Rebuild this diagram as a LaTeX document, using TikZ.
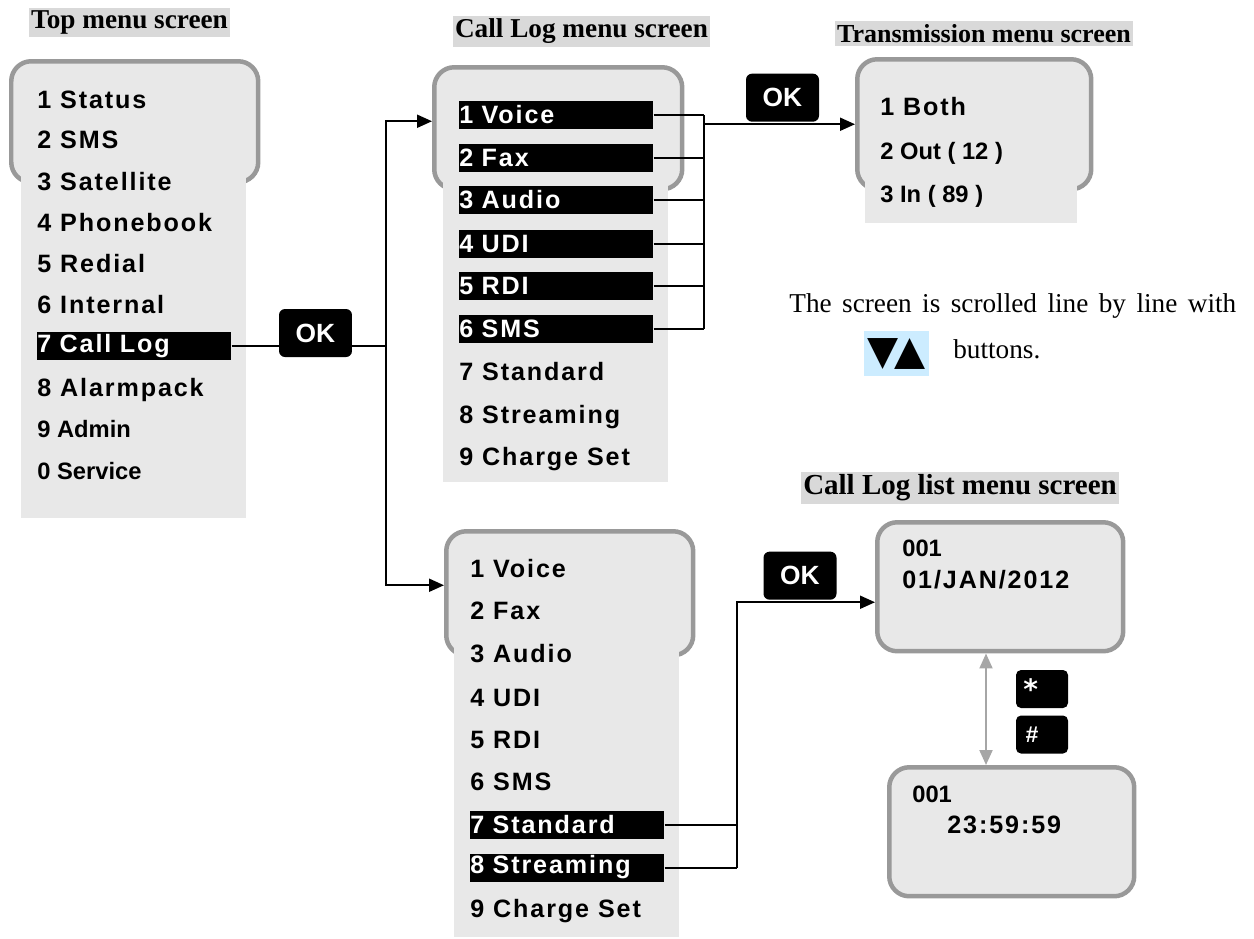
\documentclass[tikz,border=0pt]{standalone}
\usepackage{fontspec}
\setmainfont{Liberation Serif}
\newfontfamily\menufont[LetterSpace=7.5]{Liberation Sans}
\newfontfamily\plainfont{Liberation Sans}
\newfontfamily\symfont{DejaVu Sans}
\usepackage{tikz}
\usetikzlibrary{arrows.meta}
\definecolor{scr}{RGB}{232,232,232}
\definecolor{framegray}{RGB}{153,153,153}
\definecolor{titlebg}{RGB}{217,217,217}
\definecolor{keyblue}{RGB}{204,236,255}
\definecolor{linkgray}{RGB}{166,166,166}

\begin{document}
\begin{tikzpicture}[x=0.02cm,y=-0.02cm,>={Triangle[length=0.3cm,width=0.26cm]},
  title/.style={fill=titlebg,inner xsep=0.04cm,inner ysep=0.06cm,font=\bfseries\fontsize{15.5}{18}\selectfont},
  screen/.style={draw=framegray,line width=0.09cm,fill=scr,rounded corners=0.4cm,anchor=north west,inner sep=0},
  item/.style={anchor=base west,inner sep=0,font=\menufont\bfseries\fontsize{14.3}{17}\selectfont},
  pitem/.style={item,font=\plainfont\bfseries\fontsize{13.5}{16}\selectfont},
  sel/.style={item,anchor=west,fill=black,text=white,text width=3.88cm,minimum height=0.56cm},
  okkey/.style={fill=black,text=white,rounded corners=0.12cm,minimum width=1.46cm,minimum height=0.96cm,font=\plainfont\bfseries\fontsize{15}{18}\selectfont},
  smallkey/.style={fill=black,text=white,rounded corners=0.1cm,minimum width=1.04cm,minimum height=0.76cm,inner sep=0},
  link/.style={line width=0.04cm}]
\useasboundingbox (0,0) rectangle (1254,938);

% titles
\node[title] (ttop) at (129.5,22.5) {Top menu screen};
\node[title] (tclm) at (581.5,31.5) {Call Log menu screen};
\node[title,font=\bfseries\fontsize{14.8}{18}\selectfont] (ttm) at (984,33.5) {Transmission menu screen};
\node[title,font=\bfseries\fontsize{16.5}{18}\selectfont] (tcll) at (960,488) {Call Log list menu screen};

% top menu
\node[screen,minimum width=4.94cm,minimum height=2.42cm] (top) at (9,59) {};
\fill[scr] (21,150) rectangle (246,518);
\node[item] (t1) at (37,108) {1 Status};
\node[item] (t2) at (37,148) {2 SMS};
\node[item] (t3) at (37,190) {3 Satellite};
\node[item] (t4) at (37,231) {4 Phonebook};
\node[item] (t5) at (37,272) {5 Redial};
\node[item] (t6) at (37,313) {6 Internal};
\node[sel] (t7) at (37,346) {7 Call Log};
\node[item] (t8) at (37,396) {8 Alarmpack};
\node[pitem] (t9) at (37,437) {9 Admin};
\node[pitem] (t0) at (37,479) {0 Service};

% call log menu
\node[screen,minimum width=4.96cm,minimum height=2.44cm] (clm) at (432,65) {};
\fill[scr] (443,150) rectangle (668,482);
\node[sel] (c1) at (459,115) {1 Voice};
\node[sel] (c2) at (459,157.5) {2 Fax};
\node[sel] (c3) at (459,200) {3 Audio};
\node[sel] (c4) at (459,243.5) {4 UDI};
\node[sel] (c5) at (459,285.5) {5 RDI};
\node[sel] (c6) at (459,328.5) {6 SMS};
\node[item] (c7) at (459,380) {7 Standard};
\node[item] (c8) at (459,423) {8 Streaming};
\node[item] (c9) at (459,465) {9 Charge Set};

% second call log menu
\node[screen,minimum width=4.94cm,minimum height=2.48cm] (clm2) at (444,529) {};
\fill[scr] (454,620) rectangle (679,937);
\node[item] (d1) at (470,577) {1 Voice};
\node[item] (d2) at (470,619) {2 Fax};
\node[item] (d3) at (470,662) {3 Audio};
\node[item] (d4) at (470,706) {4 UDI};
\node[item] (d5) at (470,748) {5 RDI};
\node[item] (d6) at (470,790) {6 SMS};
\node[sel] (d7) at (470,824.5) {7 Standard};
\node[sel] (d8) at (470,867.5) {8 Streaming};
\node[item] (d9) at (470,917) {9 Charge Set};

% transmission menu
\node[screen,minimum width=4.68cm,minimum height=2.6cm] (tm) at (855,57) {};
\fill[scr] (865,150) rectangle (1077,223);
\node[item] (m1) at (880,115) {1 Both};
\node[pitem] (m2) at (880,159) {2 Out ( 12 )};
\node[pitem] (m3) at (880,202) {3 In ( 89 )};

% call log list screens
\node[screen,minimum width=4.92cm,minimum height=2.58cm] (cll1) at (875,520) {};
\node[pitem] (l1) at (902,556) {001};
\node[item] (l2) at (902,588) {01/JAN/2012};
\node[screen,minimum width=4.9cm,minimum height=2.58cm] (cll2) at (887,765) {};
\node[pitem] (l3) at (912,802) {001};
\node[item] (l4) at (947,833) {23:59:59};

% top menu -> call log menus
\coordinate (j1) at (386,0);
\draw[link] (t7.east) -- (t7.east -| j1);
\node[okkey] (ok1) at (315.5,333) {OK};
\draw[link,->] (t7.east -| j1) |- ([yshift=0.14cm]clm.west);
\draw[link,->] (t7.east -| j1) |- ([yshift=0.16cm]clm2.west);

% call log -> transmission
\coordinate (b1) at (704,0);
\foreach \i in {1,...,6}
  \draw[link] (c\i.east) -- (c\i.east -| b1);
\draw[link] (c1.east -| b1) -- (c6.east -| b1);
\draw[link,->] (b1 |- tm.west) -- (tm.west);
\node[okkey,anchor=south] (ok2) at (782.5,122) {OK};

% call log -> list
\coordinate (b2) at (737,0);
\draw[link] (d7.east) -- (d7.east -| b2);
\draw[link] (d8.east) -- (d8.east -| b2);
\draw[link,->] (d8.east -| b2) |- ([yshift=-0.31cm]cll1.west);
\node[okkey,anchor=south] (ok3) at (800,600) {OK};

% list scrolling
\coordinate (ax) at (986,0);
\draw[line width=0.04cm,linkgray,<->] (cll1.south -| ax) -- (cll2.north -| ax);
\node[smallkey,font=\symfont\bfseries\fontsize{16}{16}\selectfont] (kstar) at (1042,689)
  {\raisebox{-0.28em}{*}\kern0.8em};
\node[smallkey,font=\plainfont\bfseries\itshape\fontsize{13}{13}\selectfont] (khash) at (1042,734.5)
  {\#\kern0.9em};

% hint
\node[anchor=base west,inner sep=0,font=\fontsize{15.5}{18}\selectfont] (hint) at (789,312)
  {\makebox[8.94cm][s]{The screen is scrolled line by line with}};
\node[fill=keyblue,minimum width=1.3cm,minimum height=0.9cm,inner sep=0,font=\symfont\fontsize{23}{23}\selectfont] (keys) at (896.5,353.5) {▼\hspace{-0.1em}▲};
\node[anchor=base west,inner sep=0,font=\fontsize{15.5}{18}\selectfont] (btn) at (953,358) {buttons.};
\end{tikzpicture}
\end{document}
